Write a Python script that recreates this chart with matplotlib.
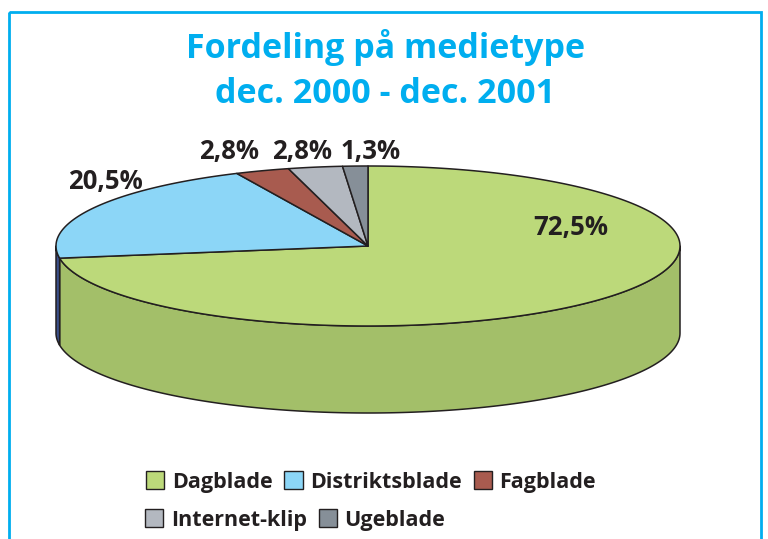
import numpy as np
import matplotlib
matplotlib.use("Agg")
import matplotlib.pyplot as plt
from matplotlib.patches import Polygon, Rectangle, Patch

# ---- data ----
categories = ["Dagblade", "Distriktsblade", "Fagblade", "Internet-klip", "Ugeblade"]
values = [72.5, 20.5, 2.8, 2.8, 1.3]
labels = ["72,5%", "20,5%", "2,8%", "2,8%", "1,3%"]

# ---- styles ----
top_colors = ["#bcd97a", "#8cd6f7", "#a85b4f", "#b3b8c0", "#868f98"]
side_colors = ["#a3bf69", "#3a4f8a", "#7a3a30", "#8a9098", "#5e666e"]
title_color = "#00aeef"
text_color = "#231f20"
FONT = ["Open Sans", "DejaVu Sans"]

W, H = 768, 539
fig = plt.figure(figsize=(W / 100, H / 100), dpi=100)
ax = fig.add_axes([0, 0, 1, 1])
ax.set_xlim(0, W)
ax.set_ylim(H, 0)
ax.axis("off")

# frame
ax.add_patch(Rectangle((9, 12), 752, 560, fill=False, edgecolor="#00aeef", lw=2.0, zorder=1))

# title
ax.text(386, 58, "Fordeling på medietype", ha="center", va="baseline",
        fontsize=24.5, fontweight="bold", color=title_color, family=FONT)
ax.text(385, 103, "dec. 2000 - dec. 2001", ha="center", va="baseline",
        fontsize=24.5, fontweight="bold", color=title_color, family=FONT)

# 3D pie geometry
cx, cy, a, b, depth = 368, 246, 312, 80, 87
total = sum(values)
start = 90.0
angles = []
cur = start
for v in values:
    nxt = cur - v / total * 360.0
    angles.append((cur, nxt))
    cur = nxt

def pt(t, dy=0.0):
    r = np.radians(t)
    return cx + a * np.cos(r), cy - b * np.sin(r) + dy

edge_kw = dict(edgecolor="#231f20", lw=1.1, joinstyle="round")

# side faces (front half: angles 180..360)
for (t1, t2), col in zip(angles, side_colors):
    lo, hi = min(t1, t2), max(t1, t2)
    for shift in (-360, 0, 360):
        s_lo, s_hi = max(lo + shift, 180), min(hi + shift, 360)
        if s_hi > s_lo:
            ts = np.linspace(s_lo, s_hi, 200)
            top = [pt(t) for t in ts]
            bot = [pt(t, depth) for t in ts[::-1]]
            ax.add_patch(Polygon(top + bot, closed=True, facecolor=col, zorder=2, **edge_kw))

# top faces
for (t1, t2), col in zip(angles, top_colors):
    ts = np.linspace(t1, t2, max(int(abs(t1 - t2) * 2), 10))
    poly = [(cx, cy)] + [pt(t) for t in ts]
    ax.add_patch(Polygon(poly, closed=True, facecolor=col, zorder=3, **edge_kw))

# labels
label_pos = [(571, 228), (105, 182), (229, 152), (302, 152), (371, 152)]
for lab, (x, y) in zip(labels, label_pos):
    ax.text(x, y, lab, ha="center", va="center", fontsize=18.5, fontweight="bold",
            color=text_color, family=FONT, zorder=5)

# legend
handles = [Patch(facecolor=c, edgecolor="#231f20", lw=1.0) for c in top_colors]
leg_kw = dict(frameon=False, handlelength=0.85, handleheight=0.85, handletextpad=0.35,
              columnspacing=0.55, borderaxespad=0, borderpad=0,
              prop=dict(family=FONT, weight="bold", size=15.5))
l1 = fig.legend(handles[:3], categories[:3], ncol=3, loc="center left",
                bbox_to_anchor=(146 / W, 1 - 482 / H), labelcolor=text_color, **leg_kw)
l2 = fig.legend(handles[3:], categories[3:], ncol=2, loc="center left",
                bbox_to_anchor=(145 / W, 1 - 520 / H), labelcolor=text_color, **leg_kw)

fig.savefig("out.png", dpi=100)
